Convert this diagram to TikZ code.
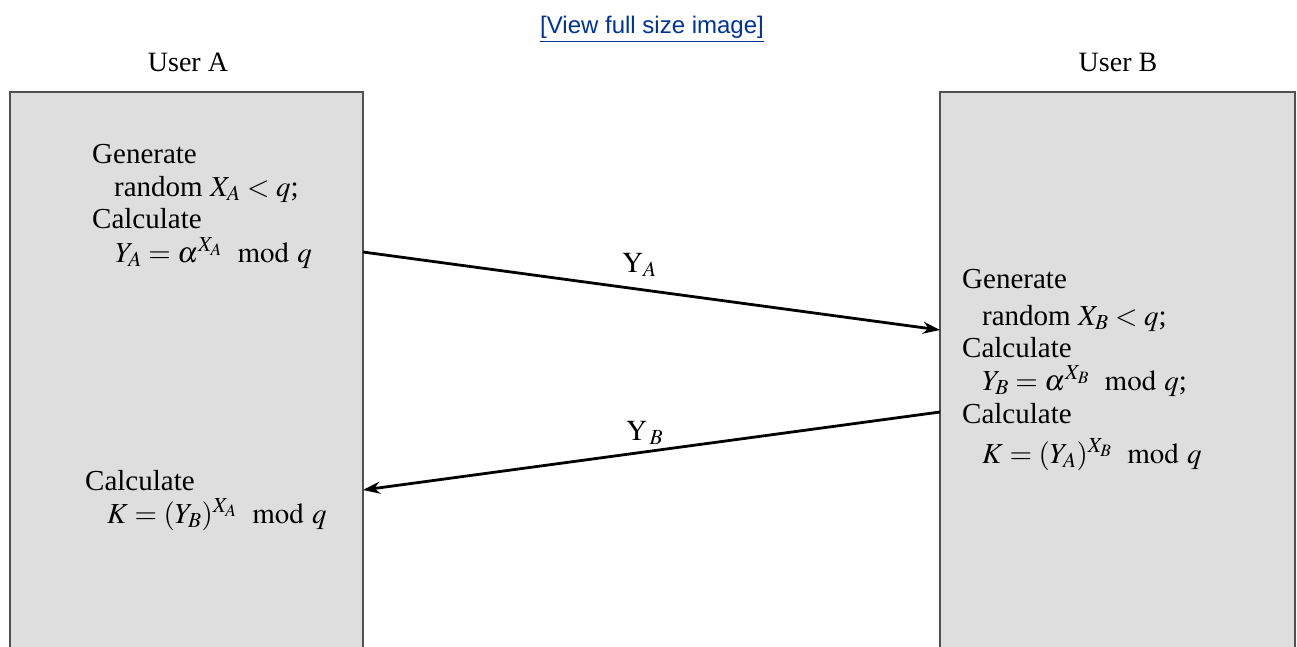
\documentclass[tikz,border=0pt]{standalone}
\usepackage{mathptmx}
\usepackage{fontspec}
\setmainfont{Liberation Serif}
\newfontfamily\linkfont{Liberation Sans}
\usetikzlibrary{arrows.meta}
\definecolor{boxfill}{RGB}{222,222,222}
\definecolor{boxline}{RGB}{80,80,80}
\definecolor{linkblue}{RGB}{0,51,153}
\begin{document}
\begin{tikzpicture}[x=1pt,y=-1pt,
  txt/.style={anchor=base west,inner sep=0pt,font=\fontsize{29}{33}\selectfont},
  title/.style={anchor=base,inner sep=0pt,font=\fontsize{28}{32}\selectfont},
  userbox/.style={draw=boxline,fill=boxfill,line width=2pt},
  msg/.style={line width=2.8pt,-{Stealth[length=17pt,width=12pt]}}]
\useasboundingbox (0,0) rectangle (1297,646);
\fill[white] (0,0) rectangle (1297,646);
% link
\node[anchor=base,inner sep=0pt,text=linkblue,font=\linkfont\fontsize{24}{28}\selectfont] (link) at (652,33) {\underline{[View full size image]}};
% titles
\node[title] (ua) at (188,71) {User A};
\node[title] (ub) at (1118,71) {User B};
% boxes
\draw[userbox] (10,660) -- (10,92) -- (363,92) -- (363,660);
\draw[userbox] (940,660) -- (940,92) -- (1295,92) -- (1295,660);
% left upper text
\node[txt] (a1) at (92,163) {Generate};
\node[txt] (a2) at (114,196) {random $X_A < q$;};
\node[txt] (a3) at (92,228) {Calculate};
\node[txt] (a4) at (115,262) {$Y_A = \alpha^{X_A}\ \bmod q$};
% left lower text
\node[txt] (a5) at (85,490) {Calculate};
\node[txt] (a6) at (107,523) {$K = (Y_B)^{X_A}\ \bmod q$};
% right text
\node[txt] (b1) at (962,288) {Generate};
\node[txt] (b2) at (982,325) {random $X_B < q$;};
\node[txt] (b3) at (962,357) {Calculate};
\node[txt] (b4) at (982,390) {$Y_B = \alpha^{X_B}\ \bmod q$;};
\node[txt] (b5) at (962,423) {Calculate};
\node[txt] (b6) at (982,463) {$K = (Y_A)^{X_B}\ \bmod q$};
% arrows
\coordinate (ya0) at (363,252);
\coordinate (ya1) at (940,330);
\coordinate (yb0) at (940,412);
\coordinate (yb1) at (363,490);
\draw[msg] (ya0) -- (ya1);
\draw[msg] (yb0) -- (yb1);
\node[txt] (la) at (622,272) {$\mathrm{Y}_{A}$};
\node[txt] (lb) at (626,440) {$\mathrm{Y}_{\,B}$};
\end{tikzpicture}
\end{document}
